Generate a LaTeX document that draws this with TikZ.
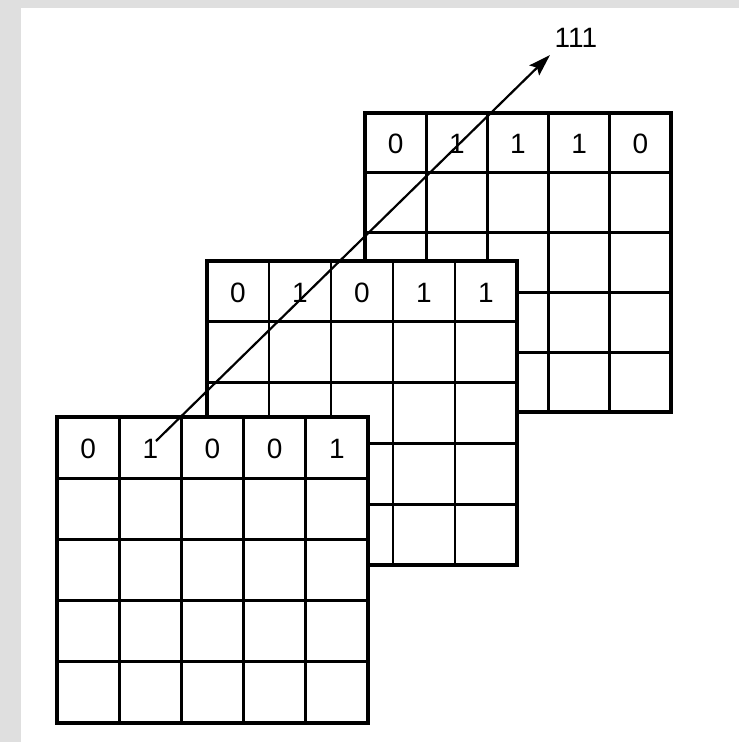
\documentclass[tikz,border=0pt]{standalone}
\usepackage{fontspec}
\setmainfont{Liberation Sans}
\usetikzlibrary{arrows.meta}
\definecolor{framegray}{RGB}{223,223,223}
\tikzset{
  gl/.style={line width=2.8pt, black},
  outerbox/.style={line width=3.6pt, black, line join=miter},
  dig/.style={font=\fontsize{28}{32}\selectfont, inner sep=0pt},
  arr/.style={line width=2.2pt, -{Stealth[length=22pt,width=14pt,inset=4pt]}},
}
\newcommand{\mygrid}[7]{% x y w h name digits
  \fill[white] (#1,#2) rectangle ++(#3,#4);
  \foreach \i in {1,...,4} {
    \draw[gl] (#1+\i*#3/5,#2) -- ++(0,#4);
    \draw[gl] (#1,#2+\i*#4/5) -- ++(#3,0);
  }
  \draw[outerbox] (#1,#2) rectangle ++(#3,#4);
  \foreach \d [count=\k] in {#6}
    \node[dig] (#5\k) at (#1-#3/10+\k*#3/5, #2+#4/10+#7) {\d};
}
\begin{document}
\begin{tikzpicture}[x=1pt,y=-1pt]
\useasboundingbox (0,0) rectangle (739,742);
\fill[framegray] (0,0) rectangle (739,742);
\fill[white] (21,8) rectangle (739,742);
\mygrid{365}{113}{306}{299}{b}{0,1,1,1,0}{1}
\mygrid{207}{261}{310}{304}{m}{0,1,0,1,1}{1}
\mygrid{57}{417}{311}{306}{f}{0,1,0,0,1}{1}
\coordinate (s) at (156,441);
\coordinate (t) at (550,55);
\draw[arr] (s) -- (t);
\node[dig] (lbl) at (576,38) {111};
\end{tikzpicture}
\end{document}
